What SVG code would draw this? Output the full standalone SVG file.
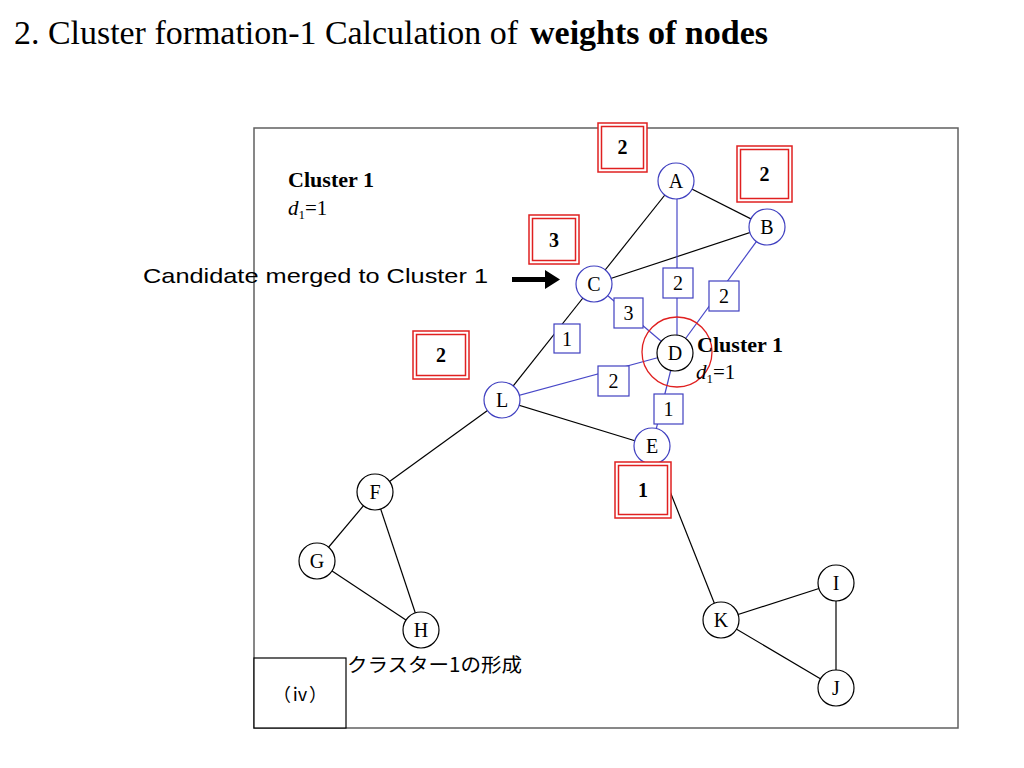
<svg xmlns="http://www.w3.org/2000/svg" width="1024" height="768" viewBox="0 0 1024 768">
<style>
.edge{stroke:#000;stroke-width:1.2;fill:none}
.bedge{stroke:#4848c8;stroke-width:1.2;fill:none}
.nb{fill:#fff;stroke:#4040c0;stroke-width:1.2}
.nk{fill:#fff;stroke:#000;stroke-width:1.2}
.lbl{font-family:"Liberation Serif",serif;font-size:20px;text-anchor:middle;fill:#000}
.wbox{fill:#fff;stroke:#4040c0;stroke-width:1.2}
.rout{fill:#fff;stroke:#e02020;stroke-width:1.5}
.rin{fill:none;stroke:#e02020;stroke-width:1.5}
.rl{font-family:"Liberation Serif",serif;font-size:20px;font-weight:bold;text-anchor:middle}
</style>
<rect width="1024" height="768" fill="#fff"/>
<text x="14" y="44" font-family="Liberation Serif,serif" font-size="33" textLength="504" lengthAdjust="spacingAndGlyphs">2. Cluster formation-1 Calculation of</text>
<text x="530" y="44" font-family="Liberation Serif,serif" font-size="33" font-weight="bold" textLength="238" lengthAdjust="spacingAndGlyphs">weights of nodes</text>
<rect id="frame" x="254" y="128" width="704" height="600" fill="none" stroke="#606060" stroke-width="1.5"/>
<g id="connectors">
<line class="edge" x1="676" y1="181" x2="594" y2="284"/>
<line class="edge" x1="676" y1="181" x2="767" y2="227"/>
<line class="edge" x1="594" y1="284" x2="767" y2="227"/>
<line class="edge" x1="594" y1="284" x2="502" y2="400"/>
<line class="edge" x1="502" y1="400" x2="375" y2="492"/>
<line class="edge" x1="502" y1="400" x2="652" y2="446"/>
<line class="edge" x1="375" y1="492" x2="317" y2="561"/>
<line class="edge" x1="375" y1="492" x2="421" y2="630"/>
<line class="edge" x1="317" y1="561" x2="421" y2="630"/>
<line class="edge" x1="652" y1="446" x2="721" y2="620"/>
<line class="edge" x1="721" y1="620" x2="836" y2="583"/>
<line class="edge" x1="721" y1="620" x2="836" y2="688"/>
<line class="edge" x1="836" y1="583" x2="836" y2="688"/>
<line class="bedge" x1="677" y1="198" x2="677" y2="336"/>
<line class="bedge" x1="767" y1="227" x2="675" y2="353"/>
<line class="bedge" x1="594" y1="284" x2="675" y2="353"/>
<line class="bedge" x1="502" y1="400" x2="675" y2="353"/>
<line class="bedge" x1="675" y1="353" x2="652" y2="446"/>
</g>
<g id="weights">
<rect class="wbox" x="663" y="268" width="30" height="30"/><text class="lbl" x="678" y="290">2</text>
<rect class="wbox" x="709" y="281" width="30" height="30"/><text class="lbl" x="724" y="303">2</text>
<rect class="wbox" x="614" y="298" width="29" height="30"/><text class="lbl" x="628.5" y="320">3</text>
<rect class="wbox" x="554" y="324" width="26" height="29"/><text class="lbl" x="567" y="346">1</text>
<rect class="wbox" x="598" y="366" width="31" height="30"/><text class="lbl" x="613.5" y="388">2</text>
<rect class="wbox" x="654" y="394" width="29" height="30"/><text class="lbl" x="668.5" y="416">1</text>
</g>
<g id="nodeA"><circle class="nb" cx="676" cy="181" r="18"/><text class="lbl" x="676" y="188">A</text></g>
<g id="nodeB"><circle class="nb" cx="767" cy="227" r="18"/><text class="lbl" x="767" y="234">B</text></g>
<g id="nodeC"><circle class="nb" cx="594" cy="284" r="18"/><text class="lbl" x="594" y="291">C</text></g>
<g id="nodeD"><circle class="nk" cx="675" cy="353" r="18"/><text class="lbl" x="675" y="360">D</text><circle cx="677" cy="352" r="35" fill="none" stroke="#e02020" stroke-width="1.3"/></g>
<g id="nodeE"><circle class="nb" cx="652" cy="446" r="18"/><text class="lbl" x="652" y="453">E</text></g>
<g id="nodeL"><circle class="nb" cx="502" cy="400" r="18"/><text class="lbl" x="502" y="407">L</text></g>
<g id="nodeF"><circle class="nk" cx="375" cy="492" r="18"/><text class="lbl" x="375" y="499">F</text></g>
<g id="nodeG"><circle class="nk" cx="317" cy="561" r="18"/><text class="lbl" x="317" y="568">G</text></g>
<g id="nodeH"><circle class="nk" cx="421" cy="630" r="18"/><text class="lbl" x="421" y="637">H</text></g>
<g id="nodeK"><circle class="nk" cx="721" cy="620" r="18"/><text class="lbl" x="721" y="627">K</text></g>
<g id="nodeI"><circle class="nk" cx="836" cy="583" r="18"/><text class="lbl" x="836" y="590">I</text></g>
<g id="nodeJ"><circle class="nk" cx="836" cy="688" r="18"/><text class="lbl" x="836" y="695">J</text></g>
<g id="nodeweights">
<rect class="rout" x="598" y="123" width="49" height="49"/><rect class="rin" x="601.5" y="126.5" width="42" height="42"/><text class="rl" x="622.5" y="154">2</text>
<rect class="rout" x="737" y="146" width="55" height="56"/><rect class="rin" x="740.5" y="149.5" width="48" height="49"/><text class="rl" x="764.5" y="181">2</text>
<rect class="rout" x="529" y="215" width="50" height="49"/><rect class="rin" x="532.5" y="218.5" width="43" height="42"/><text class="rl" x="554" y="247">3</text>
<rect class="rout" x="413" y="331" width="56" height="48"/><rect class="rin" x="416.5" y="334.5" width="49" height="41"/><text class="rl" x="441" y="362">2</text>
<rect class="rout" x="615" y="462" width="56" height="56"/><rect class="rin" x="618.5" y="465.5" width="49" height="49"/><text class="rl" x="643" y="497">1</text>
</g>
<g id="labels" font-family="Liberation Serif,serif" font-size="21">
<text x="288" y="187" font-weight="bold" textLength="86" lengthAdjust="spacingAndGlyphs">Cluster 1</text>
<text x="288" y="215"><tspan font-style="italic">d</tspan><tspan font-size="13" dy="4">1</tspan><tspan dy="-4">=1</tspan></text>
<text x="697" y="352" font-weight="bold" textLength="86" lengthAdjust="spacingAndGlyphs">Cluster 1</text>
<text x="696" y="379"><tspan font-style="italic">d</tspan><tspan font-size="13" dy="4">1</tspan><tspan dy="-4">=1</tspan></text>
</g>
<g id="candidate">
<text x="143" y="283" font-family="Liberation Sans,Arial,sans-serif" font-size="21" textLength="345" lengthAdjust="spacingAndGlyphs">Candidate merged to Cluster 1</text>
<polygon points="512,277 545,277 545,270 560,279.5 545,289 545,282 512,282" fill="#000"/>
</g>
<g id="caption">
<rect x="254" y="658" width="92" height="70" fill="#fff" stroke="#000" stroke-width="1.2"/>
<text x="300" y="701" font-family="Liberation Serif,Noto Sans CJK JP,serif" font-size="18" text-anchor="middle">（ⅳ）</text>
<text x="347" y="672" font-family="Noto Sans CJK JP,sans-serif" font-size="19.5" textLength="175" lengthAdjust="spacingAndGlyphs">クラスター1の形成</text>
</g>
</svg>
